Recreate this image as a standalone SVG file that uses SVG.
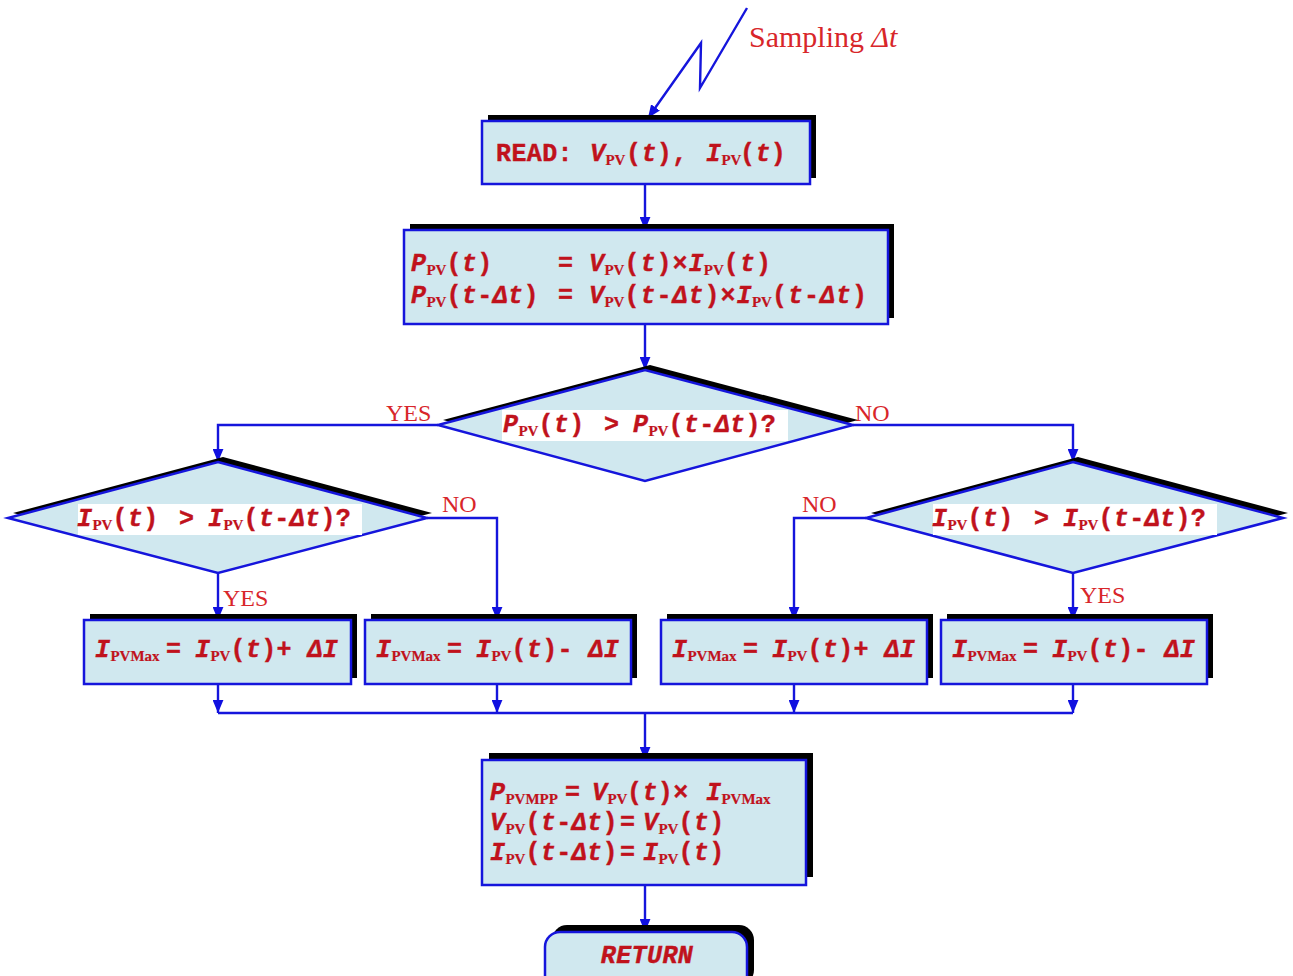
<svg xmlns="http://www.w3.org/2000/svg" width="1293" height="976" viewBox="0 0 1293 976">
<defs>
<marker id="arr" viewBox="0 0 12 10" refX="12" refY="5" markerWidth="13" markerHeight="11" markerUnits="userSpaceOnUse" orient="auto">
<path d="M0,0 L12,5 L0,10 z" fill="#1010e0"/>
</marker>
<style>
.box{fill:#d0e8ef;stroke:#1515dc;stroke-width:2.5}
.sh{fill:#000}
.wb{fill:#fff}
.c{fill:none;stroke:#1515dc;stroke-width:2.4}
.ca{fill:none;stroke:#1515dc;stroke-width:2.4;marker-end:url(#arr)}
.t{font-family:"Liberation Mono",monospace;font-weight:bold;font-size:25px;letter-spacing:0.4px;fill:#c0121c;stroke:#c0121c;stroke-width:0.4}
.w{letter-spacing:1px}
.i{font-style:italic}
.s{font-family:"Liberation Serif",serif;font-weight:bold;font-size:15px;font-style:normal;letter-spacing:0;stroke-width:0.2}
.lbl{font-family:"Liberation Serif",serif;font-size:24px;fill:#d8262a}
</style>
</defs>
<rect width="1293" height="976" fill="#fff"/>

<g id="connectors">
<polyline class="ca" points="747,8 700,88 701,43 648,118"/>
<line class="ca" x1="645" y1="184" x2="645" y2="230"/>
<line class="ca" x1="645" y1="324" x2="645" y2="370"/>
<polyline class="ca" points="438,425 218,425 218,462"/>
<polyline class="ca" points="853,425 1073,425 1073,462"/>
<line class="ca" x1="218" y1="573" x2="218" y2="620"/>
<polyline class="ca" points="427,518 497,518 497,620"/>
<polyline class="ca" points="866,518 794,518 794,620"/>
<line class="ca" x1="1073" y1="573" x2="1073" y2="620"/>
<line class="ca" x1="218" y1="684" x2="218" y2="713"/>
<line class="ca" x1="497" y1="684" x2="497" y2="713"/>
<line class="ca" x1="794" y1="684" x2="794" y2="713"/>
<line class="ca" x1="1073" y1="684" x2="1073" y2="713"/>
<line class="c" x1="218" y1="713" x2="1073" y2="713"/>
<line class="ca" x1="645" y1="713" x2="645" y2="760"/>
<line class="ca" x1="645" y1="885" x2="645" y2="932"/>
<text class="lbl" x="749" y="47" style="font-size:30px">Sampling <tspan font-style="italic">Δt</tspan></text>
<text class="lbl" x="386" y="421">YES</text>
<text class="lbl" x="855" y="421">NO</text>
<text class="lbl" x="442" y="512">NO</text>
<text class="lbl" x="223" y="606">YES</text>
<text class="lbl" x="802" y="512">NO</text>
<text class="lbl" x="1080" y="603">YES</text>
</g>

<g id="read">
<rect class="sh" x="488" y="115" width="328" height="63"/>
<rect class="box" x="482" y="121" width="328" height="63"/>
<text class="t" y="161"><tspan x="496">READ:</tspan><tspan x="590" class="i">V</tspan><tspan class="s" dy="4">PV</tspan><tspan x="626" dy="-4">(</tspan><tspan class="i">t</tspan><tspan>),</tspan><tspan x="706" class="i">I</tspan><tspan class="s" dy="4">PV</tspan><tspan x="740" dy="-4">(</tspan><tspan class="i">t</tspan><tspan>)</tspan></text>
</g>

<g id="power">
<rect class="sh" x="410" y="224" width="484" height="94"/>
<rect class="box" x="404" y="230" width="484" height="94"/>
<text class="t" y="271"><tspan x="411" class="i">P</tspan><tspan class="s" dy="4">PV</tspan><tspan dy="-4">(</tspan><tspan class="i">t</tspan><tspan>)</tspan><tspan x="558">=</tspan><tspan x="589" class="i">V</tspan><tspan class="s" dy="4">PV</tspan><tspan dy="-4" class="w">(</tspan><tspan class="i w">t</tspan><tspan class="w">)×</tspan><tspan class="i">I</tspan><tspan class="s" dy="4">PV</tspan><tspan dy="-4" class="w">(</tspan><tspan class="i w">t</tspan><tspan>)</tspan></text>
<text class="t" y="303"><tspan x="411" class="i">P</tspan><tspan class="s" dy="4">PV</tspan><tspan dy="-4">(</tspan><tspan class="i">t</tspan><tspan>-</tspan><tspan class="i">Δt</tspan><tspan>)</tspan><tspan x="558">=</tspan><tspan x="589" class="i">V</tspan><tspan class="s" dy="4">PV</tspan><tspan dy="-4" class="w">(</tspan><tspan class="i w">t</tspan><tspan class="w">-</tspan><tspan class="i w">Δt</tspan><tspan class="w">)×</tspan><tspan class="i">I</tspan><tspan class="s" dy="4">PV</tspan><tspan dy="-4" class="w">(</tspan><tspan class="i w">t</tspan><tspan class="w">-</tspan><tspan class="i w">Δt</tspan><tspan>)</tspan></text>
</g>

<g id="dec1">
<polygon class="sh" points="650,365 858,420 650,476 443,420"/>
<polygon class="box" points="645,370 853,425 645,481 438,425"/>
<rect class="wb" x="502" y="410" width="286" height="31"/>
<text class="t" y="432"><tspan x="503" class="i">P</tspan><tspan class="s" dy="4">PV</tspan><tspan dy="-4">(</tspan><tspan class="i">t</tspan><tspan>)</tspan><tspan x="604">&gt;</tspan><tspan x="633" class="i">P</tspan><tspan class="s" dy="4">PV</tspan><tspan dy="-4">(</tspan><tspan class="i">t</tspan><tspan>-</tspan><tspan class="i">Δt</tspan><tspan>)?</tspan></text>
</g>

<g id="dec2">
<polygon class="sh" points="223,457 432,513 223,568 13,513"/>
<polygon class="box" points="218,462 427,518 218,573 8,518"/>
<rect class="wb" x="78" y="504" width="284" height="31"/>
<text class="t" y="526"><tspan x="77" class="i">I</tspan><tspan class="s" dy="4">PV</tspan><tspan dy="-4">(</tspan><tspan class="i">t</tspan><tspan>)</tspan><tspan x="179">&gt;</tspan><tspan x="208" class="i">I</tspan><tspan class="s" dy="4">PV</tspan><tspan dy="-4">(</tspan><tspan class="i">t</tspan><tspan>-</tspan><tspan class="i">Δt</tspan><tspan>)?</tspan></text>
</g>

<g id="dec3">
<polygon class="sh" points="1078,457 1288,513 1078,568 871,513"/>
<polygon class="box" points="1073,462 1283,518 1073,573 866,518"/>
<rect class="wb" x="933" y="504" width="284" height="31"/>
<text class="t" y="526"><tspan x="932" class="i">I</tspan><tspan class="s" dy="4">PV</tspan><tspan dy="-4">(</tspan><tspan class="i">t</tspan><tspan>)</tspan><tspan x="1034">&gt;</tspan><tspan x="1063" class="i">I</tspan><tspan class="s" dy="4">PV</tspan><tspan dy="-4">(</tspan><tspan class="i">t</tspan><tspan>-</tspan><tspan class="i">Δt</tspan><tspan>)?</tspan></text>
</g>

<g id="incA">
<rect class="sh" x="90" y="614" width="267" height="64"/>
<rect class="box" x="84" y="620" width="267" height="64"/>
<text class="t" y="657"><tspan x="95" class="i">I</tspan><tspan class="s" dy="4">PVMax</tspan><tspan x="166" dy="-4">=</tspan><tspan x="195" class="i">I</tspan><tspan class="s" dy="4">PV</tspan><tspan dy="-4">(</tspan><tspan class="i">t</tspan><tspan>)+ </tspan><tspan class="i">ΔI</tspan></text>
</g>

<g id="decB">
<rect class="sh" x="371" y="614" width="266" height="64"/>
<rect class="box" x="365" y="620" width="266" height="64"/>
<text class="t" y="657"><tspan x="376" class="i">I</tspan><tspan class="s" dy="4">PVMax</tspan><tspan x="447" dy="-4">=</tspan><tspan x="476" class="i">I</tspan><tspan class="s" dy="4">PV</tspan><tspan dy="-4">(</tspan><tspan class="i">t</tspan><tspan>)- </tspan><tspan class="i">ΔI</tspan></text>
</g>

<g id="incC">
<rect class="sh" x="667" y="614" width="266" height="64"/>
<rect class="box" x="661" y="620" width="266" height="64"/>
<text class="t" y="657"><tspan x="672" class="i">I</tspan><tspan class="s" dy="4">PVMax</tspan><tspan x="743" dy="-4">=</tspan><tspan x="772" class="i">I</tspan><tspan class="s" dy="4">PV</tspan><tspan dy="-4">(</tspan><tspan class="i">t</tspan><tspan>)+ </tspan><tspan class="i">ΔI</tspan></text>
</g>

<g id="decD">
<rect class="sh" x="947" y="614" width="266" height="64"/>
<rect class="box" x="941" y="620" width="266" height="64"/>
<text class="t" y="657"><tspan x="952" class="i">I</tspan><tspan class="s" dy="4">PVMax</tspan><tspan x="1023" dy="-4">=</tspan><tspan x="1052" class="i">I</tspan><tspan class="s" dy="4">PV</tspan><tspan dy="-4">(</tspan><tspan class="i">t</tspan><tspan>)- </tspan><tspan class="i">ΔI</tspan></text>
</g>

<g id="update">
<rect class="sh" x="489" y="753" width="324" height="124"/>
<rect class="box" x="482" y="760" width="324" height="125"/>
<text class="t" y="800"><tspan x="490" class="i">P</tspan><tspan class="s" dy="4">PVMPP</tspan><tspan x="565" dy="-4">=</tspan><tspan x="592" class="i">V</tspan><tspan class="s" dy="4">PV</tspan><tspan x="627" dy="-4">(</tspan><tspan class="i">t</tspan><tspan>)×</tspan><tspan x="706" class="i">I</tspan><tspan class="s" dy="4">PVMax</tspan></text>
<text class="t" y="830"><tspan x="490" class="i">V</tspan><tspan class="s" dy="4">PV</tspan><tspan dy="-4">(</tspan><tspan class="i">t</tspan><tspan>-</tspan><tspan class="i">Δt</tspan><tspan>)</tspan><tspan x="620">=</tspan><tspan x="643" class="i">V</tspan><tspan class="s" dy="4">PV</tspan><tspan dy="-4">(</tspan><tspan class="i">t</tspan><tspan>)</tspan></text>
<text class="t" y="860"><tspan x="490" class="i">I</tspan><tspan class="s" dy="4">PV</tspan><tspan dy="-4">(</tspan><tspan class="i">t</tspan><tspan>-</tspan><tspan class="i">Δt</tspan><tspan>)</tspan><tspan x="620">=</tspan><tspan x="643" class="i">I</tspan><tspan class="s" dy="4">PV</tspan><tspan dy="-4">(</tspan><tspan class="i">t</tspan><tspan>)</tspan></text>
</g>

<g id="return">
<rect class="sh" x="552" y="925" width="202" height="60" rx="15"/>
<rect class="box" x="545" y="932" width="202" height="60" rx="15"/>
<text class="t i" x="647" y="963" text-anchor="middle">RETURN</text>
</g>
</svg>
